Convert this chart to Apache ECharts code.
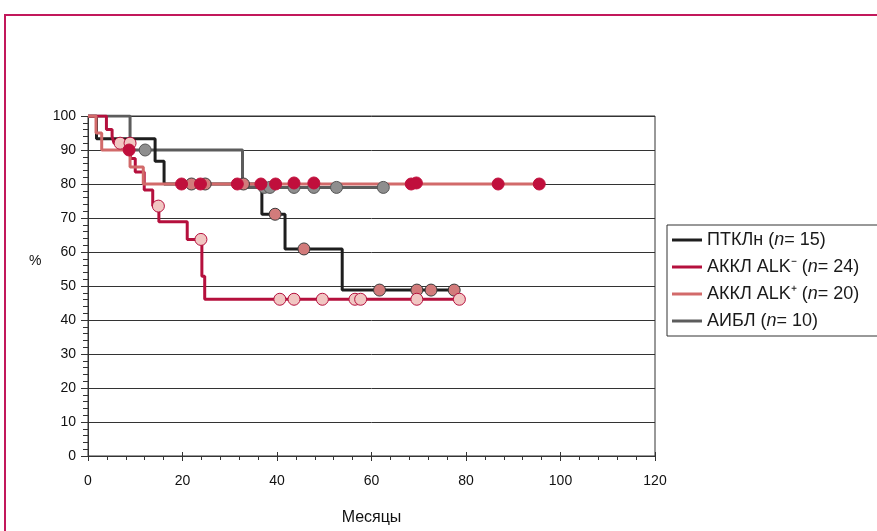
<!DOCTYPE html>
<html>
<head>
<meta charset="utf-8">
<script src="https://cdn.jsdelivr.net/npm/echarts@6/dist/echarts.min.js"></script>
<style>
  html, body { margin: 0; padding: 0; background: #fff; }
  #chart { width: 877px; height: 531px; }
</style>
</head>
<body>
<div id="chart"></div>
<script>
// survival curves (months, %)
var ptklTimes = [0, 1.8, 14.2, 16.1, 36.8, 41.7, 53.8, 77.5];
var ptklSurv = [100, 93.3, 86.7, 80, 71.1, 60.9, 48.8, 48.8];
var ptklCensT = [21.9, 24.8, 32.9, 39.6, 45.7, 61.7, 69.6, 72.6, 77.5];
var ptklCensS = [80, 80, 80, 71.1, 60.9, 48.8, 48.8, 48.8, 48.8];

var alkNegTimes = [0, 3.9, 5.1, 5.5, 9.0, 10.0, 11.9, 13.7, 15.0, 21.0, 24.1, 24.7, 78.6];
var alkNegSurv = [100, 96, 94, 92, 87.5, 83.5, 78.2, 73.5, 68.9, 63.7, 52.9, 46.1, 46.1];
var alkNegCensT = [6.8, 8.9, 14.9, 23.9, 40.6, 43.6, 49.6, 56.5, 57.7, 69.6, 78.6];
var alkNegCensS = [92, 92, 73.5, 63.7, 46.1, 46.1, 46.1, 46.1, 46.1, 46.1, 46.1];

var alkPosTimes = [0, 1.7, 2.9, 8.9, 11.7, 95.5];
var alkPosSurv = [100, 95, 90, 85, 80, 80];
var alkPosCensT = [8.7, 19.8, 23.8, 31.6, 36.6, 39.7, 43.6, 47.8, 68.4, 69.5, 86.8, 95.5];
var alkPosCensS = [90, 80, 80, 80, 80, 80, 80.3, 80.3, 80, 80.3, 80, 80];

var aiblTimes = [0, 8.9, 32.7, 62.5];
var aiblSurv = [100, 90, 79, 79];
var aiblCensT = [12.1, 37.3, 38.5, 43.6, 47.8, 52.6, 62.5];
var aiblCensS = [90, 79, 79, 79, 79, 79, 79];

var seriesNames = ['ПТКЛн', 'АККЛ ALK⁻', 'АККЛ ALK⁺', 'АИБЛ'];
var seriesN = [15, 24, 20, 10];

function pairs(t, s) {
    var out = [];
    for (var i = 0; i < t.length; i++) out.push([t[i], s[i]]);
    return out;
}

var font = 'Liberation Sans, Arial, sans-serif';

function curve(name, t, s, color, z) {
    return {
        name: name,
        type: 'line',
        step: 'end',
        data: pairs(t, s),
        showSymbol: false,
        lineStyle: { color: color, width: 3 },
        itemStyle: { color: color },
        z: z
    };
}

function censor(t, s, fill, border, z) {
    return {
        type: 'scatter',
        data: pairs(t, s),
        symbol: 'circle',
        symbolSize: 12,
        itemStyle: { color: fill, borderColor: border, borderWidth: 1, opacity: 1 },
        z: z
    };
}

var dom = document.getElementById('chart');
var myChart = echarts.init(dom);

var option = {
    animation: false,
    textStyle: { fontFamily: font },
    grid: {
        left: 88, top: 116, width: 567, height: 340,
        show: true, borderColor: '#333', borderWidth: 1
    },
    legend: {
        data: seriesNames,
        orient: 'vertical',
        left: 667,
        top: 225,
        padding: [6, 60, 6, 5],
        itemGap: 9,
        itemWidth: 30,
        itemHeight: 3,
        icon: 'rect',
        borderColor: '#333',
        borderWidth: 1,
        formatter: function (name) {
            var n = seriesN[seriesNames.indexOf(name)];
            return '{a|' + name + ' (}{i|n}{a|= ' + n + ')}';
        },
        textStyle: {
            fontFamily: font,
            fontSize: 18,
            color: '#1a1a1a',
            rich: {
                a: { fontFamily: font, fontSize: 18, color: '#1a1a1a', lineHeight: 18 },
                i: { fontFamily: font, fontSize: 18, color: '#1a1a1a', fontStyle: 'italic', lineHeight: 18 }
            }
        }
    },
    xAxis: [{
        type: 'value',
        min: 0, max: 120, interval: 20,
        name: 'Месяцы',
        nameLocation: 'middle',
        nameGap: 54,
        nameTextStyle: { fontFamily: font, fontSize: 16, color: '#111' },
        axisLine: { lineStyle: { color: '#333', width: 1 } },
        axisTick: { inside: true, length: 4, lineStyle: { color: '#333' } },
        minorTick: { show: true, splitNumber: 5, length: -4, lineStyle: { color: '#333' } },
        splitLine: { show: false },
        axisLabel: { fontFamily: font, fontSize: 14, color: '#111', margin: 18 }
    }, {
        type: 'value',
        min: 0, max: 120, interval: 20,
        position: 'bottom',
        axisLine: { show: false },
        axisTick: { inside: false, length: 5, lineStyle: { color: '#333' } },
        axisLabel: { show: false },
        splitLine: { show: false }
    }],
    yAxis: {
        type: 'value',
        min: 0, max: 100, interval: 10,
        axisLine: { show: true, lineStyle: { color: '#333', width: 1 } },
        axisTick: { show: true, inside: false, length: 7, lineStyle: { color: '#333' } },
        minorTick: { show: true, splitNumber: 5, length: 5, lineStyle: { color: '#333' } },
        splitLine: { show: true, lineStyle: { color: '#333', width: 1 } },
        axisLabel: { fontFamily: font, fontSize: 14, color: '#111', margin: 12 }
    },
    graphic: [
        {
            type: 'rect',
            shape: { x: 5, y: 15, width: 1000, height: 700 },
            style: { fill: 'none', stroke: '#c2185b', lineWidth: 2 },
            silent: true
        },
        {
            type: 'text',
            left: 29, top: 254,
            style: { text: '%', font: '14px ' + font, fill: '#111' }
        }
    ],
    series: [
        curve(seriesNames[3], aiblTimes, aiblSurv, '#5c5c5c', 2),
        curve(seriesNames[0], ptklTimes, ptklSurv, '#1e1e1e', 3),
        curve(seriesNames[1], alkNegTimes, alkNegSurv, '#b5103d', 4),
        curve(seriesNames[2], alkPosTimes, alkPosSurv, '#d26a6a', 5),
        censor(aiblCensT, aiblCensS, '#8e8e8e', '#555', 10),
        censor(ptklCensT, ptklCensS, '#d27b7b', '#3a3a3a', 11),
        censor(alkNegCensT, alkNegCensS, '#f1c6c2', '#b5103d', 12),
        censor(alkPosCensT, alkPosCensS, '#c00f3c', '#c00f3c', 13)
    ]
};

if (option && typeof option === 'object') {
    myChart.setOption(option, true);
}
</script>
</body>
</html>
